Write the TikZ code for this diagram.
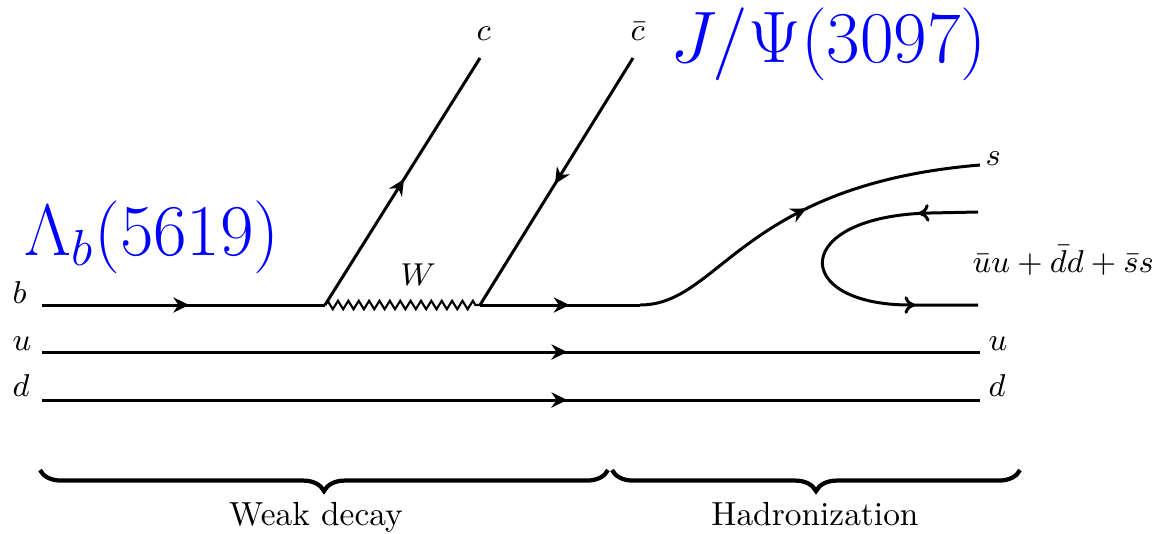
\documentclass[tikz,border=0pt]{standalone}
\usepackage{amsmath}
\usetikzlibrary{positioning,arrows.meta,decorations.markings,decorations.pathmorphing,decorations.pathreplacing}

\begin{document}
\begin{tikzpicture}[x=0.01cm,y=-0.01cm,
  quark/.style={line width=0.85pt,postaction={decorate},
    decoration={markings,mark=at position #1 with {\arrow{Stealth[length=4.5pt,width=4.3pt]}}}},
  pairloop/.style={line width=0.85pt,postaction={decorate},
    decoration={markings,
      mark=at position 0.17 with {\arrow{To[length=3pt,width=5pt]}},
      mark=at position 0.82 with {\arrow{To[length=3pt,width=5pt]}}}},
  boson/.style={line width=0.6pt,decorate,decoration={zigzag,segment length=2.95pt,amplitude=1.2pt}},
  grp/.style={line width=1.2pt,decorate,decoration={brace,mirror,amplitude=6pt}},
  lab/.style={anchor=base west,inner sep=0pt,font=\small},
  tag/.style={anchor=base,inner sep=0pt,font=\fontsize{9.5}{11}\selectfont},
  big/.style={anchor=base west,inner sep=0pt,text=blue,font=\fontsize{22}{26}\selectfont}
]
\useasboundingbox (0,0) rectangle (1155,533);

\coordinate (bin) at (42,305);
\coordinate (uin) at (42,352);
\coordinate (din) at (42,400);
\coordinate (wl) at (325,305);
\coordinate (wr) at (480,305);
\coordinate (hb) at (640,305);
\coordinate (sout) at (980,165);
\coordinate (uout) at (980,352);
\coordinate (dout) at (980,400);
\coordinate (cout) at (480,58);
\coordinate (cbin) at (633,58);
\coordinate (qtop) at (978,212);
\coordinate (qbot) at (978,305);

\node[lab] (lb) at (12,303) {$b$};
\node[lab] (lu) at (12,350) {$u$};
\node[lab] (ld) at (12,396) {$d$};
\node[lab] (lc) at (476,40) {$c$};
\node[lab] (lcb) at (630,40) {$\bar c$};
\node[lab] (lw) at (400,285) {$W$};
\node[lab] (ls) at (985,165) {$s$};
\node[lab,font=\fontsize{8.6}{10}\selectfont] (lsea) at (972,272) {$\bar uu+\bar dd+\bar ss$};
\node[lab] (lu2) at (988,350) {$u$};
\node[lab] (ld2) at (988,396) {$d$};
\node[big] (lam) at (24,255) {$\Lambda_b(5619)$};
\node[big] (jpsi) at (670,62) {$J/\Psi(3097)$};

\draw[quark=0.52] (bin) -- (wl);
\draw[boson] (wl) -- (wr);
\draw[quark=0.56] (wr) -- (hb);
\draw[quark=0.52] (hb) .. controls (720,305) and (740,185) .. (sout);
\draw[quark=0.56] (uin) -- (uout);
\draw[quark=0.56] (din) -- (dout);
\draw[quark=0.51] (wl) -- (cout);
\draw[quark=0.51] (cbin) -- (wr);
\draw[pairloop] (qtop) -- (930,213) .. controls (790,216) and (790,305) .. (910,305) -- (qbot);

\coordinate (g1l) at (40,470);
\coordinate (g1r) at (608,470);
\coordinate (g2l) at (612,470);
\coordinate (g2r) at (1020,470);
\draw[grp] (g1l) -- (g1r);
\draw[grp] (g2l) -- (g2r);
\node[tag] (weak) at (316,525) {Weak decay};
\node[tag] (hadr) at (815,525) {Hadronization};
\end{tikzpicture}
\end{document}
